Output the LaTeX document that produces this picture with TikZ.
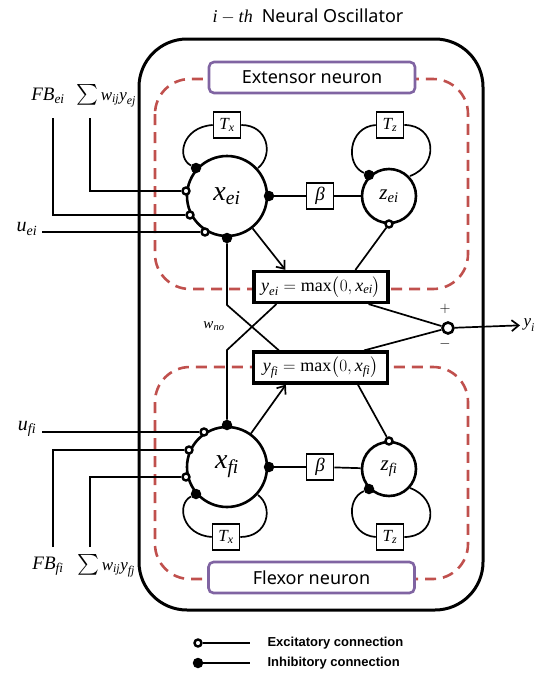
\documentclass[tikz,border=0pt]{standalone}
\usepackage{amsmath}
\usepackage{fontspec}
\setmainfont{Liberation Serif}
\newfontfamily\sansf{Noto Sans}
\newfontfamily\lgfont{Liberation Sans}
\newcommand\mv[1]{\textit{#1}}
\newcommand\bigsum{\mathop{\hbox{\fontsize{20}{20}\selectfont$\sum$}}\nolimits}
\usetikzlibrary{arrows.meta}
\definecolor{dred}{HTML}{C0504D}
\definecolor{purp}{HTML}{8064A2}
\begin{document}
\begin{tikzpicture}[x=1pt,y=-1pt,
  neuron/.style={circle,draw,line width=2.6pt,fill=white,inner sep=0pt},
  tbox/.style={draw,line width=1.6pt,fill=white,minimum width=27pt,minimum height=26pt,inner sep=0pt,font=\fontsize{17}{17}\selectfont},
  ybox/.style={draw,line width=3.2pt,fill=white,minimum width=134pt,minimum height=31pt,inner sep=0pt,font=\fontsize{18}{18}\selectfont},
  exc/.style={circle,draw,fill=white,line width=2.4pt,minimum size=7pt,inner sep=0pt},
  inh/.style={circle,fill=black,minimum size=10.5pt,inner sep=0pt},
  conn/.style={line width=1.7pt},
  arr/.style={conn,-{Straight Barb[length=7pt,width=11pt,line width=1.7pt]}},
  namebox/.style={draw=purp,line width=2.6pt,rounded corners=5pt,fill=white,minimum width=206pt,minimum height=31pt,font=\sansf\fontsize{18}{18}\selectfont},
  dashbox/.style={draw=dred,line width=2.6pt,dash pattern=on 11pt off 7pt,rounded corners=35pt},
  lgtext/.style={anchor=west,font=\lgfont\bfseries\fontsize{13}{13}\selectfont}
]
\useasboundingbox (0,0) rectangle (549,675);

% title
\node[font=\fontsize{18}{18}\selectfont] (title) at (308,16) {$\mv{i}-\mv{th}$\ \ {\sansf Neural Oscillator}};

% containers
\draw[line width=3pt,rounded corners=48pt] (139,39) rectangle (483,610);
\draw[dashbox] (155,79) rectangle (468,289);
\draw[dashbox] (155,367) rectangle (468,579);
\node[namebox] (ext) at (312,77.5) {Extensor neuron};
\node[namebox] (flx) at (311.5,577.5) {Flexor neuron};

% neurons and boxes
\node[neuron,minimum size=80pt,font=\fontsize{28}{28}\selectfont] (xe) at (227,196) {$\mv{x}_{\mv{ei}}$};
\node[neuron,minimum size=54pt,font=\fontsize{21}{21}\selectfont] (ze) at (389,196) {$\mv{z}_{\mv{ei}}$};
\node[neuron,minimum size=80pt,font=\fontsize{28}{28}\selectfont] (xf) at (227,467) {$\mv{x}_{\mv{fi}}$};
\node[neuron,minimum size=54pt,font=\fontsize{21}{21}\selectfont] (zf) at (389,469) {$\mv{z}_{\mv{fi}}$};
\node[tbox] (txe) at (227,125) {$\mv{T}_{\mv{x}}$};
\node[tbox] (tze) at (390,125) {$\mv{T}_{\mv{z}}$};
\node[tbox] (txf) at (226,537) {$\mv{T}_{\mv{x}}$};
\node[tbox] (tzf) at (390,537) {$\mv{T}_{\mv{z}}$};
\node[tbox,font=\fontsize{19}{19}\selectfont] (bE) at (320,196) {\mv{β}};
\node[tbox,font=\fontsize{19}{19}\selectfont] (bF) at (320,467) {\mv{β}};
\node[ybox] (ye) at (321,287) {$\mv{y}_{\mv{ei}}=\text{max}\bigl(0,\mv{x}_{\mv{ei}}\bigr)$};
\node[ybox] (yf) at (320.5,367.5) {$\mv{y}_{\mv{fi}}=\text{max}\bigl(0,\mv{x}_{\mv{fi}}\bigr)$};
\node[circle,draw,line width=2.6pt,minimum size=11pt,inner sep=0pt,fill=white] (sum) at (448,328) {};

% labels
\node[font=\fontsize{19}{19}\selectfont] (fbe) at (48,96) {$\mv{FB}_{\mv{ei}}$};
\node[font=\fontsize{17}{17}\selectfont] (swe) at (106,96) {$\bigsum \mv{w}_{\mv{ij}}\mv{y}_{\mv{ej}}$};
\node[font=\fontsize{20}{20}\selectfont] (ue) at (27,229) {$\mv{u}_{\mv{ei}}$};
\node[font=\fontsize{20}{20}\selectfont] (uf) at (27,429) {$\mv{u}_{\mv{fi}}$};
\node[font=\fontsize{19}{19}\selectfont] (fbf) at (48,566) {$\mv{FB}_{\mv{fi}}$};
\node[font=\fontsize{17}{17}\selectfont] (swf) at (106,566) {$\bigsum \mv{w}_{\mv{ij}}\mv{y}_{\mv{fj}}$};
\node[font=\fontsize{15}{15}\selectfont] (wno) at (214,326) {$\mv{w}_{\mv{no}}$};
\node[font=\fontsize{14}{14}\selectfont] (plus) at (445,309) {$+$};
\node[font=\fontsize{14}{14}\selectfont] (minus) at (445,344) {$-$};
\node[font=\fontsize{17}{17}\selectfont,anchor=west] (yi) at (520,325) {$\mv{y}_{\mv{i}}$};

% free ends
\coordinate (fbeTop) at (53,118);
\coordinate (sweTop) at (90,118);
\coordinate (ueEnd) at (42,232);
\coordinate (ufEnd) at (42,432);
\coordinate (fbfBot) at (53,547);
\coordinate (swfBot) at (90,547);
\coordinate (xeR) at (258,168);
\coordinate (zeR) at (410,176);
\coordinate (xfR) at (258,495);
\coordinate (zfR) at (410,488);
\coordinate (bendA) at (227,305);
\coordinate (bendB) at (227,350);

% markers
\node[exc] (mswe) at (186,191) {};
\node[exc] (mfbe) at (190,215) {};
\node[exc] (mue) at (205,232) {};
\node[exc] (muf) at (204,432) {};
\node[exc] (mfbf) at (189,450) {};
\node[exc] (mswf) at (186,477) {};
\node[inh] (ixeloop) at (196,168) {};
\node[inh] (izeloop) at (369,175) {};
\node[inh] (ixfloop) at (196,494) {};
\node[inh] (izfloop) at (369,489) {};
\node[inh] (ixer) at (269,196) {};
\node[inh] (ixfr) at (269,467) {};
\node[inh] (ixeb) at (227,238) {};
\node[inh] (ixft) at (227,425) {};
\node[exc] (mzeb) at (389,224) {};
\node[exc] (mzft) at (389,441) {};

% inputs
\draw[conn] (sweTop) |- (mswe);
\draw[conn] (fbeTop) |- (mfbe);
\draw[conn] (ueEnd) -- (mue);
\draw[conn] (ufEnd) -- (muf);
\draw[conn] (fbfBot) |- (mfbf);
\draw[conn] (swfBot) |- (mswf);

% self loops
\draw[conn] (ixeloop) .. controls (176,158) and (182,127) .. (txe.west);
\draw[conn] (txe.east) .. controls (268,125) and (274,155) .. (xeR);
\draw[conn] (izeloop) .. controls (345,165) and (348,127) .. (tze.west);
\draw[conn] (tze.east) .. controls (436,125) and (440,165) .. (zeR);
\draw[conn] (ixfloop) .. controls (176,504) and (182,535) .. (txf.west);
\draw[conn] (txf.east) .. controls (268,537) and (274,507) .. (xfR);
\draw[conn] (izfloop) .. controls (345,499) and (348,535) .. (tzf.west);
\draw[conn] (tzf.east) .. controls (436,537) and (440,499) .. (zfR);

% beta links
\draw[conn] (ixer) -- (bE);
\draw[conn] (bE) -- (ze);
\draw[conn] (ixfr) -- (bF);
\draw[conn] (bF) -- (zf);

% outputs
\draw[arr] (xe) -- ([xshift=33pt]ye.north west);
\draw[conn] (mzeb) -- ([xshift=103pt]ye.north west);
\draw[arr] (xf) -- ([xshift=34pt]yf.south west);
\draw[conn] ([xshift=106pt]yf.south west) -- (mzft);

% mutual inhibition
\draw[conn] (ixeb) -- (bendA) -- ([xshift=27pt]yf.north west);
\draw[conn] ([xshift=24pt]ye.south west) -- (bendB) -- (ixft);

% summation
\draw[conn] ([xshift=-21pt]ye.south east) -- (sum);
\draw[conn] ([xshift=-25pt]yf.north east) -- (sum);
\draw[arr] (sum) -- (yi);

% legend
\node[exc] (lgE) at (198,643) {};
\coordinate (lgEend) at (250,643);
\draw[conn] (lgE) -- (lgEend);
\node[lgtext] (lgEt) at (264,643) {Excitatory connection};
\node[inh] (lgI) at (198,663) {};
\coordinate (lgIend) at (250,663);
\draw[conn] (lgI) -- (lgIend);
\node[lgtext] (lgIt) at (264,663) {Inhibitory connection};
\end{tikzpicture}
\end{document}
